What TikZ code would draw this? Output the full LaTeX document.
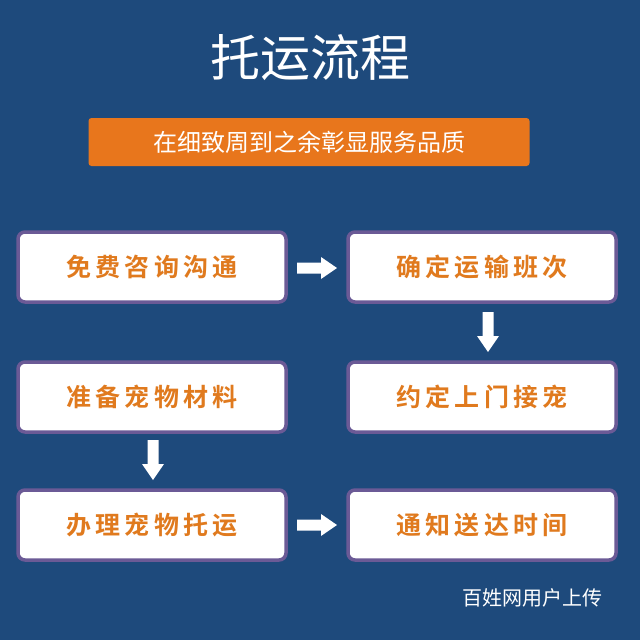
\documentclass[tikz,border=0pt]{standalone}
\usepackage{fontspec}
\newfontfamily\cjk{Noto Sans CJK SC}[BoldFont={Noto Sans CJK SC Bold}]
\definecolor{bg}{HTML}{1E4A7C}
\definecolor{bd}{HTML}{6B5A96}
\definecolor{og}{HTML}{E07A1E}
\definecolor{ban}{HTML}{E8761C}
\begin{document}
\begin{tikzpicture}[x=1pt,y=-1pt,
 stepbox/.style={draw=bd,line width=3.5pt,fill=white,rounded corners=7pt,minimum width=268pt,minimum height=70pt,font=\cjk\bfseries\fontsize{25}{25}\selectfont,text=og,inner sep=0pt},
 arr/.pic={\fill[white] (-20,-5.5) -- (4,-5.5) -- (4,-11) -- (20,0) -- (4,11) -- (4,5.5) -- (-20,5.5) -- cycle;}]
\useasboundingbox (0,0) rectangle (640,640);
\fill[bg] (0,0) rectangle (640,640);
\node[text=white,font=\cjk\fontsize{50}{50}\selectfont] (title) at (310,58) {托运流程};
\node[fill=ban,rounded corners=3pt,minimum width=441pt,minimum height=48pt,text=white,font=\cjk\fontsize{24}{24}\selectfont] (banner) at (309,142) {在细致周到之余彰显服务品质};
\node[stepbox] (a) at (152,267) {免\,费\,咨\,询\,沟\,通};
\node[stepbox] (b) at (482,267) {确\,定\,运\,输\,班\,次};
\node[stepbox] (c) at (482,397) {约\,定\,上\,门\,接\,宠};
\node[stepbox] (d) at (152,397) {准\,备\,宠\,物\,材\,料};
\node[stepbox] (e) at (152,525) {办\,理\,宠\,物\,托\,运};
\node[stepbox] (f) at (482,525) {通\,知\,送\,达\,时\,间};
\pic at (317,268) {arr};
\pic[rotate=-90] at (488,332) {arr};
\pic[rotate=-90] at (153,460) {arr};
\pic at (317,525) {arr};
\node[text=white,font=\cjk\fontsize{20}{20}\selectfont] (wm) at (532,598) {百姓网用户上传};
\end{tikzpicture}
\end{document}
